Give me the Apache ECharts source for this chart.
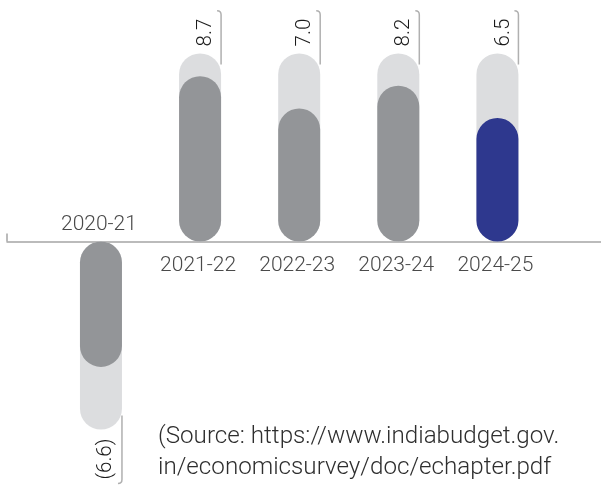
<!DOCTYPE html>
<html>
<head>
<meta charset="utf-8">
<script src="https://cdn.jsdelivr.net/npm/echarts@6/dist/echarts.min.js"></script>
<style>
html,body{margin:0;padding:0;background:#fff;}
#chart{width:601px;height:485px;}
</style>
</head>
<body>
<div id="chart"></div>
<script>
const categories = ['2020-21', '2021-22', '2022-23', '2023-24', '2024-25'];
const values = [-6.6, 8.7, 7.0, 8.2, 6.5];
const valueLabels = ['(6.6)', '8.7', '7.0', '8.2', '6.5'];
const trackExtent = 9.9;
const highlightIndex = 4;
const sourceLines = ['(Source: https://www.indiabudget.gov.', 'in/economicsurvey/doc/echapter.pdf'];

const FONT = 'Roboto';
const BAR_W = 42;
const xMin = -0.948, xMax = 5.045;

const measureCtx = document.createElement('canvas').getContext('2d');
function textWidth(t, size) {
  measureCtx.font = '300 ' + size + 'px ' + FONT;
  return measureCtx.measureText(t).width;
}

const pairs = values.map((v, i) => [i, v]);

const chart = echarts.init(document.getElementById('chart'), null, {renderer: 'canvas'});
chart.setOption({
  animation: false,
  backgroundColor: '#ffffff',
  title: {
    text: sourceLines.join('\n'),
    left: 158,
    top: 421,
    padding: 0,
    textStyle: {fontFamily: FONT, fontSize: 24.2, fontWeight: 300, color: '#2e2e2e', lineHeight: 31}
  },
  grid: {left: 7, right: 0, top: 13.5, bottom: 15.5},
  xAxis: {
    type: 'value', min: xMin, max: xMax,
    axisLine: {show: true, onZero: true, lineStyle: {color: '#a5a5a5', width: 1.5}},
    axisTick: {show: true, inside: true, length: 8, customValues: [xMin], lineStyle: {color: '#a5a5a5', width: 1.5}},
    axisLabel: {show: false},
    splitLine: {show: false}
  },
  yAxis: {type: 'value', min: -12, max: 12, show: false},
  series: [
    {
      type: 'bar', name: 'track', barWidth: BAR_W, barGap: '-100%',
      data: values.map((v, i) => [i, (v >= 0 ? 1 : -1) * trackExtent]),
      itemStyle: {color: '#dcdddf', borderRadius: BAR_W / 2},
      z: 1
    },
    {
      type: 'bar', name: 'value', barWidth: BAR_W, barGap: '-100%',
      data: pairs,
      itemStyle: {
        color: p => p.dataIndex === highlightIndex ? '#2e388e' : '#939598',
        borderRadius: BAR_W / 2
      },
      z: 2
    },
    {
      type: 'custom', name: 'labels', clip: false, z: 3,
      data: pairs,
      renderItem(params, api) {
        const i = api.value(0), v = api.value(1);
        const s = v >= 0 ? 1 : -1;
        const base = api.coord([i, 0]);
        const end = api.coord([i, s * trackExtent]);
        const cx = base[0];
        const lx = cx + BAR_W / 2;
        const label = valueLabels[params.dataIndex];
        const fs = 20.5;
        const cfs = 21;
        const L = textWidth(label, fs);
        const r = 4;
        const children = [];
        if (s > 0) {
          const tAnchor = end[1] - 7;
          const yTop = tAnchor - L - 8;
          const yStart = end[1] + 11;
          children.push({
            type: 'path',
            shape: {pathData: `M${lx} ${yStart} L${lx} ${yTop + r} Q${lx} ${yTop} ${lx - r} ${yTop}`},
            style: {fill: null, stroke: '#b0b0b0', lineWidth: 1.5}
          });
          children.push({
            type: 'text', x: cx + 6, y: tAnchor, rotation: Math.PI / 2,
            style: {text: label, fontFamily: FONT, fontSize: fs, fontWeight: 300, fill: '#1a1a1a', align: 'left', verticalAlign: 'middle'}
          });
          children.push({
            type: 'text', x: cx - 2, y: base[1] + 24,
            style: {text: categories[params.dataIndex], fontFamily: FONT, fontSize: cfs, fontWeight: 300, fill: '#4a4a4a', align: 'center', verticalAlign: 'middle'}
          });
        } else {
          const tAnchor = end[1] + 9;
          const yBot = tAnchor + L + 4;
          const yStart = end[1] - 14;
          children.push({
            type: 'path',
            shape: {pathData: `M${lx} ${yStart} L${lx} ${yBot - r} Q${lx} ${yBot} ${lx - r} ${yBot}`},
            style: {fill: null, stroke: '#b0b0b0', lineWidth: 1.5}
          });
          children.push({
            type: 'text', x: cx + 5, y: tAnchor, rotation: Math.PI / 2,
            style: {text: label, fontFamily: FONT, fontSize: fs, fontWeight: 300, fill: '#1a1a1a', align: 'right', verticalAlign: 'middle'}
          });
          children.push({
            type: 'text', x: cx - 2, y: base[1] - 17,
            style: {text: categories[params.dataIndex], fontFamily: FONT, fontSize: cfs, fontWeight: 300, fill: '#4a4a4a', align: 'center', verticalAlign: 'middle'}
          });
        }
        return {type: 'group', children};
      }
    }
  ]
});
</script>
</body>
</html>
